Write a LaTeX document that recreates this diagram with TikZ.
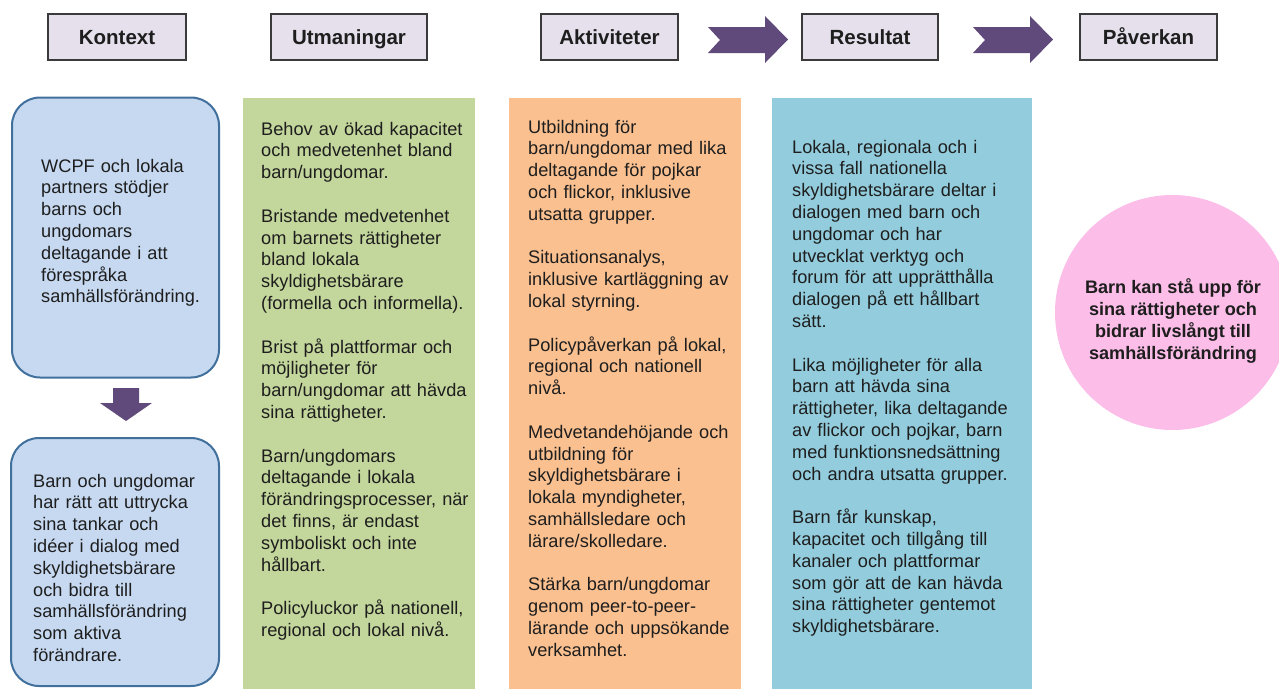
\documentclass[tikz,border=0pt]{standalone}
\usepackage{fontspec}
\setmainfont{Liberation Sans}
\definecolor{txt}{HTML}{1E1E1E}
\definecolor{hdrfill}{HTML}{E5E0EC}
\definecolor{hdrline}{HTML}{3A3A3A}
\definecolor{purp}{HTML}{604A7B}
\definecolor{kfill}{HTML}{C6D9F1}
\definecolor{kline}{HTML}{41709C}
\definecolor{gcol}{HTML}{C3D69B}
\definecolor{ocol}{HTML}{FAC090}
\definecolor{bcol}{HTML}{93CDDD}
\definecolor{pcol}{HTML}{FCBDE8}
\tikzset{
  hdr/.style={draw=hdrline, line width=1.5pt, fill=hdrfill, minimum height=46pt, inner sep=0pt,
    text height=14.7pt, text depth=0pt,
    font=\fontsize{20.5}{24}\selectfont\bfseries, text=txt},
  body/.style={anchor=base west, inner sep=0pt, align=left, text width=255pt,
    font=\fontsize{18.2}{21.8}\selectfont, text=txt},
  kbox/.style={draw=kline, line width=2pt, fill=kfill, rounded corners=28pt, inner sep=0pt},
  blockarrow/.style={fill=purp, draw=none},
}
\newcommand{\pgap}{\\[21.8pt]}
\begin{document}
\begin{tikzpicture}[x=1pt,y=-1pt]
\useasboundingbox (0,0) rectangle (1279,688);
\clip (0,0) rectangle (1279,688);
\fill[white] (0,0) rectangle (1279,688);

% header boxes
\node[hdr, minimum width=138pt] (h1) at (117,37) {Kontext};
\node[hdr, minimum width=156pt] (h2) at (349,37) {Utmaningar};
\node[hdr, minimum width=137pt] (h3) at (609.5,37) {Aktiviteter};
\node[hdr, minimum width=136pt] (h4) at (870,37) {Resultat};
\node[hdr, minimum width=137pt] (h5) at (1148.5,37) {Påverkan};

% block arrows between headers
\fill[blockarrow] (708,27) -- (765,27) -- (765,16) -- (788,39.5) -- (765,63) -- (765,53) -- (708,53) -- (720,40) -- cycle;
\fill[blockarrow] (973,27) -- (1030,27) -- (1030,16) -- (1053,39.5) -- (1030,63) -- (1030,53) -- (973,53) -- (985,40) -- cycle;

% Kontext boxes
\node[kbox, minimum width=207pt, minimum height=280pt] (ctx1) at (115.5,237.5) {};
\node[kbox, minimum width=208pt, minimum height=248pt] (ctx2) at (115,562) {};
\fill[blockarrow] (113,388) -- (139,388) -- (139,403) -- (152,403) -- (126,421) -- (100,403) -- (113,403) -- cycle;

\node[body] (t1) at (41,172) {WCPF och lokala\\ partners stödjer\\ barns och\\ ungdomars\\ deltagande i att\\ förespråka\\ samhällsförändring.};
\node[body] (t2) at (33,487) {Barn och ungdomar\\ har rätt att uttrycka\\ sina tankar och\\ idéer i dialog med\\ skyldighetsbärare\\ och bidra till\\ samhällsförändring\\ som aktiva\\ förändrare.};

% columns
\fill[gcol] (243,98) rectangle (475,690);
\fill[ocol] (509,98) rectangle (741,690);
\fill[bcol] (772,98) rectangle (1032,690);

\node[body] (t3) at (261,135) {Behov av ökad kapacitet\\ och medvetenhet bland\\ barn/ungdomar.\pgap
Bristande medvetenhet\\ om barnets rättigheter\\ bland lokala\\ skyldighetsbärare\\ (formella och informella).\pgap
Brist på plattformar och\\ möjligheter för\\ barn/ungdomar att hävda\\ sina rättigheter.\pgap
Barn/ungdomars\\ deltagande i lokala\\ förändringsprocesser, när\\ det finns, är endast\\ symboliskt och inte\\ hållbart.\pgap
Policyluckor på nationell,\\ regional och lokal nivå.};

\node[body] (t4) at (528,133) {Utbildning för\\ barn/ungdomar med lika\\ deltagande för pojkar\\ och flickor, inklusive\\ utsatta grupper.\pgap
Situationsanalys,\\ inklusive kartläggning av\\ lokal styrning.\pgap
Policypåverkan på lokal,\\ regional och nationell\\ nivå.\pgap
Medvetandehöjande och\\ utbildning för\\ skyldighetsbärare i\\ lokala myndigheter,\\ samhällsledare och\\ lärare/skolledare.\pgap
Stärka barn/ungdomar\\ genom peer-to-peer-\\ lärande och uppsökande\\ verksamhet.};

\node[body] (t5) at (792,153) {Lokala, regionala och i\\ vissa fall nationella\\ skyldighetsbärare deltar i\\ dialogen med barn och\\ ungdomar och har\\ utvecklat verktyg och\\ forum för att upprätthålla\\ dialogen på ett hållbart\\ sätt.\pgap
Lika möjligheter för alla\\ barn att hävda sina\\ rättigheter, lika deltagande\\ av flickor och pojkar, barn\\ med funktionsnedsättning\\ och andra utsatta grupper.\pgap
Barn får kunskap,\\ kapacitet och tillgång till\\ kanaler och plattformar\\ som gör att de kan hävda\\ sina rättigheter gentemot\\ skyldighetsbärare.};

% impact circle
\node[circle, fill=pcol, minimum size=235pt, inner sep=0pt] (imp) at (1172.5,312.5) {};
\node[inner sep=0pt, align=center, font=\fontsize{18.1}{22}\selectfont\bfseries, text=txt] (t6) at (1173,321)
  {Barn kan stå upp för\\ sina rättigheter och\\ bidrar livslångt till\\ samhällsförändring};
\end{tikzpicture}
\end{document}
